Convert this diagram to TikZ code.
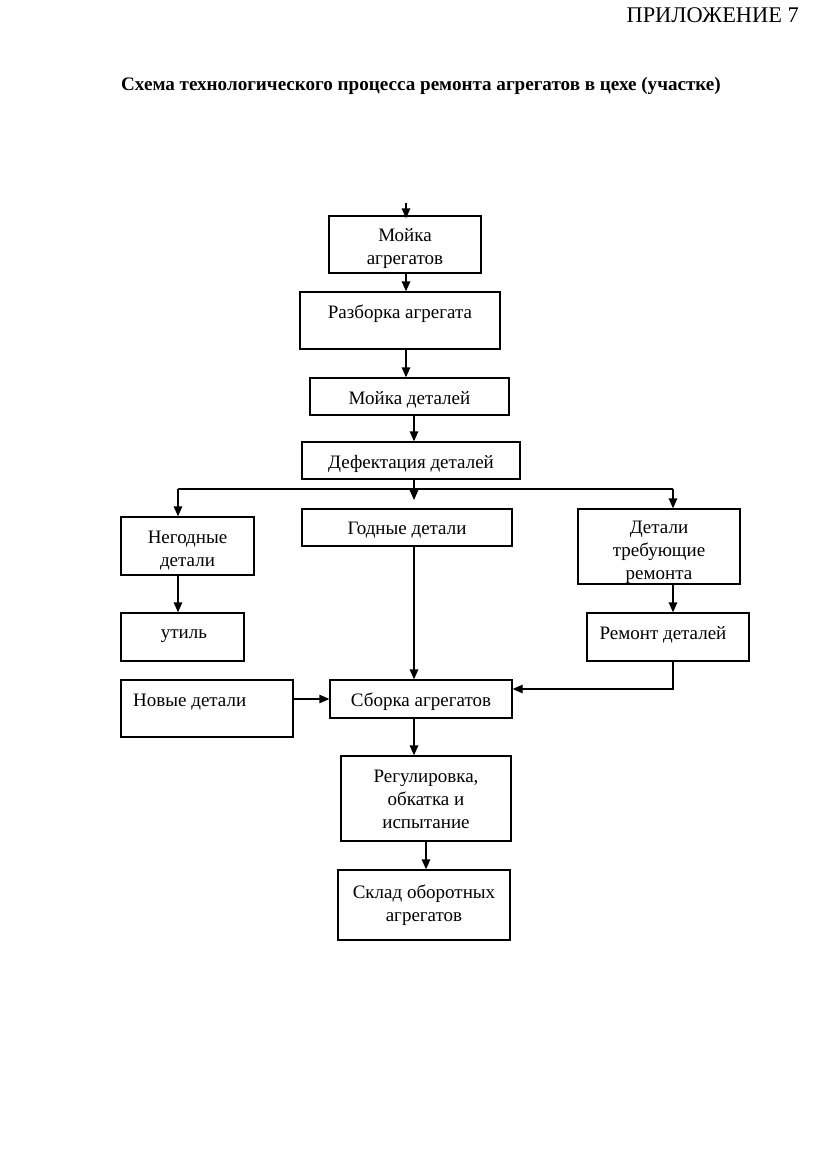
\documentclass[tikz,border=0pt]{standalone}
\usepackage{fontspec}
\setmainfont{Liberation Serif}
\usetikzlibrary{arrows.meta}
\begin{document}
\begin{tikzpicture}[x=1pt,y=-1pt,
  box/.style={draw, line width=1.3pt, inner sep=0pt},
  lbl/.style={inner sep=0pt, align=center, font=\fontsize{19}{23}\selectfont},
  arr/.style={line width=1.3pt, -{Triangle[length=10pt,width=8.5pt]}},
  ln/.style={line width=1.3pt}]
\useasboundingbox (0,0) rectangle (816,1176);
% headings
\node (app) [anchor=east, inner sep=0pt, font=\fontsize{22.4}{26}\selectfont] at (799,15) {ПРИЛОЖЕНИЕ 7};
\node (title) [inner sep=0pt, font=\bfseries\fontsize{19.1}{22}\selectfont] at (421,86) {Схема технологического процесса ремонта агрегатов в цехе (участке)};
% column coordinates
\coordinate (c1) at (406,0);
\coordinate (c3) at (414,0);
\coordinate (c4) at (426,0);
% boxes
\node[box, minimum width=152pt, minimum height=57pt] (m1) at (405,244.5) {};
\node[lbl] (m1t) at (405,248.5) {Мойка\\агрегатов};
\node[box, minimum width=200pt, minimum height=57pt] (razb) at (400,320.5) {};
\node[lbl] (razbt) at (400,314) {Разборка агрегата};
\node[box, minimum width=199pt, minimum height=37pt] (md) at (409.5,396.5) {};
\node[lbl] (mdt) at (409.5,399.5) {Мойка деталей};
\node[box, minimum width=218pt, minimum height=37pt] (def) at (411,460.5) {};
\node[lbl] (deft) at (411,463.5) {Дефектация деталей};
\node[box, minimum width=133pt, minimum height=58pt] (neg) at (187.5,546) {};
\node[lbl] (negt) at (187.5,551) {Негодные\\детали};
\node[box, minimum width=210pt, minimum height=37pt] (god) at (407,527.5) {};
\node[lbl] (godt) at (407,530.5) {Годные детали};
\node[box, minimum width=162pt, minimum height=75pt] (det) at (659,546.5) {};
\node[lbl] (dett) at (659,552) {Детали\\требующие\\ремонта};
\node[box, minimum width=123pt, minimum height=48pt] (util) at (182.5,637) {};
\node[lbl] (utilt) at (184,636) {утиль};
\node[box, minimum width=162pt, minimum height=48pt] (rem) at (668,637) {};
\node[lbl] (remt) at (663,634.5) {Ремонт деталей};
\node[box, minimum width=172pt, minimum height=57pt] (nov) at (207,708.5) {};
\node[lbl, anchor=west] (novt) at (133,702) {Новые детали};
\node[box, minimum width=182pt, minimum height=38pt] (sb) at (421,699) {};
\node[lbl] (sbt) at (421,701.5) {Сборка агрегатов};
\node[box, minimum width=170pt, minimum height=85pt] (reg) at (426,798.5) {};
\node[lbl] (regt) at (426,799) {Регулировка,\\обкатка и\\испытание};
\node[box, minimum width=172pt, minimum height=70pt] (skl) at (424,905) {};
\node[lbl] (sklt) at (424,905.5) {Склад оборотных\\агрегатов};
% connectors
\coordinate (topin) at (406,203);
\draw[arr] (topin) -- ([yshift=-3pt]c1 |- m1.north);
\draw[arr] (c1 |- m1.south) -- (c1 |- razb.north);
\draw[arr] (c1 |- razb.south) -- (c1 |- md.north);
\draw[arr] (c3 |- md.south) -- (c3 |- def.north);
\coordinate (bl) at (178,489);
\coordinate (br) at (673,489);
\coordinate (bend) at (414,500);
\draw[ln] (bl) -- (br);
\draw[arr] (c3 |- def.south) -- (bend);
\draw[arr] (bl) -- (bl |- neg.north);
\draw[arr] (br) -- (br |- det.north);
\draw[arr] (bl |- neg.south) -- (bl |- util.north);
\draw[arr] (br |- det.south) -- (br |- rem.north);
\draw[arr] (c3 |- god.south) -- (c3 |- sb.north);
\coordinate (rj) at (673,689);
\draw[arr] (br |- rem.south) -- (rj) -- (rj -| sb.east);
\draw[arr] (nov.east |- sb.west) -- (sb.west);
\draw[arr] (c3 |- sb.south) -- (c3 |- reg.north);
\draw[arr] (c4 |- reg.south) -- (c4 |- skl.north);
\end{tikzpicture}
\end{document}
